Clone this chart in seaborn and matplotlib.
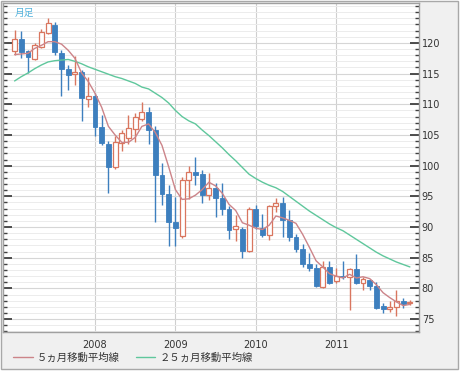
import numpy as np
import pandas as pd
import matplotlib
matplotlib.use("Agg")
import matplotlib.pyplot as plt
import seaborn as sns
from matplotlib.patches import Rectangle
from matplotlib.lines import Line2D
from matplotlib.ticker import MultipleLocator, FixedLocator

# ---- data (monthly candles, Jan 2007 - Dec 2011) ----
months = [f"{y}-{m:02d}" for y in range(2007, 2012) for m in range(1, 13)]

opens = [118.7, 120.7, 118.6, 117.4, 119.4, 121.6, 122.9, 118.4, 115.7, 114.9, 115.3, 110.8,
         111.4, 106.3, 103.5, 99.8, 103.7, 104.5, 106.0, 107.6, 108.7, 105.8, 98.5, 95.4,
         90.75, 88.5, 97.65, 98.9, 98.6, 95.2, 96.3, 94.7, 93.0, 89.7, 89.6, 86.1,
         93.0, 89.9, 88.7, 93.4, 93.9, 91.1, 88.3, 86.35, 84.05, 83.4, 80.15, 83.5,
         81.2, 82.0, 81.9, 83.1, 80.9, 81.3, 80.36, 77.1, 76.7, 76.9, 78.0, 77.6]
highs = [122.1, 122.0, 118.9, 120.0, 122.2, 124.0, 123.4, 118.8, 116.4, 117.8, 115.6, 114.5,
         111.8, 108.2, 104.0, 104.8, 105.8, 108.3, 108.6, 110.4, 109.5, 106.5, 100.4, 96.8,
         94.9, 98.2, 100.0, 101.45, 99.3, 98.85, 97.1, 97.1, 93.4, 92.0, 90.0, 93.2,
         93.6, 92.05, 93.6, 94.65, 94.9, 92.8, 88.8, 87.3, 85.8, 84.0, 84.4, 84.45,
         83.3, 84.45, 83.3, 85.6, 81.9, 81.6, 81.0, 77.6, 77.9, 79.7, 78.5, 78.1]
lows = [118.0, 117.5, 115.1, 117.2, 119.1, 121.4, 118.0, 111.4, 112.4, 113.1, 107.2, 109.6,
        104.8, 103.3, 95.6, 99.4, 102.4, 103.6, 103.8, 107.3, 103.5, 90.9, 93.6, 86.9,
        86.9, 88.2, 94.6, 96.8, 93.9, 94.4, 91.7, 92.0, 88.1, 87.75, 84.9, 86.0,
        89.7, 88.3, 87.9, 92.5, 88.3, 87.8, 85.95, 83.5, 82.85, 80.2, 80.1, 80.8,
        80.9, 81.5, 76.55, 80.8, 79.7, 79.7, 76.7, 76.0, 76.2, 75.5, 76.8, 77.3]
closes = [120.6, 118.5, 117.7, 119.6, 121.8, 123.2, 118.5, 115.8, 114.8, 115.3, 111.0, 111.4,
          106.3, 103.7, 99.8, 103.9, 105.4, 106.1, 107.9, 108.7, 105.8, 98.5, 95.4, 90.75,
          89.9, 97.7, 99.0, 98.5, 95.2, 96.3, 94.7, 92.9, 89.5, 90.15, 86.1, 93.0,
          90.15, 88.7, 93.4, 93.85, 91.2, 88.3, 86.35, 84.05, 83.4, 80.35, 83.5, 80.9,
          82.0, 81.8, 83.1, 80.9, 81.6, 80.35, 76.8, 76.6, 77.0, 78.0, 77.4, 77.8]
ma5 = [118.1, 118.2, 118.3, 119.1, 119.6, 120.2, 120.2, 119.8, 118.8, 117.5, 115.1, 113.7,
       111.8, 109.5, 106.4, 105.0, 103.8, 103.8, 104.6, 106.4, 106.8, 105.4, 103.3, 99.8,
       96.1, 94.5, 94.6, 95.2, 96.1, 97.3, 96.7, 95.5, 93.7, 92.7, 90.7, 90.3,
       89.8, 89.6, 90.3, 91.8, 91.5, 91.1, 90.6, 88.8, 86.7, 84.5, 83.5, 82.4,
       82.0, 81.7, 82.3, 81.7, 81.9, 81.6, 80.6, 79.3, 78.5, 77.8, 77.2, 77.4]
ma25 = [113.8, 114.5, 115.1, 115.8, 116.4, 116.9, 117.1, 117.2, 117.3, 117.0, 116.6, 116.1,
        115.7, 115.3, 114.9, 114.5, 114.2, 113.8, 113.4, 112.8, 112.5, 111.8, 111.1, 110.2,
        109.0, 108.0, 107.3, 106.8, 105.8, 104.9, 103.9, 102.9, 101.8, 100.8, 99.7, 98.6,
        97.9, 97.3, 96.8, 96.4, 95.8, 95.0, 94.2, 93.4, 92.6, 91.9, 91.2, 90.5,
        89.9, 89.4, 88.7, 88.0, 87.3, 86.6, 85.9, 85.3, 84.8, 84.3, 83.9, 83.5]
year_labels = ["2008", "2009", "2010", "2011"]
y_ticks = [75, 80, 85, 90, 95, 100, 105, 110, 115, 120]
legend_labels = ["５ヵ月移動平均線", "２５ヵ月移動平均線"]
title_text = "月足"

# ---- styling ----
UP = "#d9765f"
DOWN = "#3d7fbe"
MA5C = "#cc8489"
MA25C = "#5fc79c"
CJK = ["Noto Sans CJK JP", "DejaVu Sans"]

sns.set_theme(style="white")
plt.rcParams["font.family"] = ["DejaVu Sans", "Noto Sans CJK JP"]

W, H = 464, 375
fig = plt.figure(figsize=(W / 100, H / 100), dpi=100, facecolor="white")
fig.patches.append(Rectangle((0.5 / W, 1 - 369 / H), 457.5 / W, 368.5 / H,
                             transform=fig.transFigure, facecolor="#f0f0f0",
                             edgecolor="#a8a8a8", lw=1.0, zorder=-10))

ax = fig.add_axes([3 / W, 43 / H, 416 / W, 329 / H])
ax.set_zorder(1)
ax.set_facecolor("white")

df = pd.DataFrame({"month": months, "open": opens, "high": highs,
                   "low": lows, "close": closes, "ma5": ma5, "ma25": ma25})
df["pos"] = np.arange(len(df))
up = df[df["close"] >= df["open"]]
dn = df[df["close"] < df["open"]]

# wicks
ax.vlines(up["pos"], up["low"], up["high"], colors=UP, lw=1.0, zorder=3)
ax.vlines(dn["pos"], dn["low"], dn["high"], colors=DOWN, lw=1.0, zorder=3)
# bodies
ax.bar(up["pos"], (up["close"] - up["open"]).clip(lower=0.15), bottom=up["open"],
       width=0.72, facecolor="white", edgecolor=UP, lw=0.9, zorder=4)
ax.bar(dn["pos"], (dn["open"] - dn["close"]).clip(lower=0.15), bottom=dn["close"],
       width=0.72, facecolor=DOWN, edgecolor=DOWN, lw=0.6, zorder=4)

# moving averages
sns.lineplot(data=df, x="pos", y="ma25", color=MA25C, lw=1.0, ax=ax, zorder=5, legend=False)
sns.lineplot(data=df, x="pos", y="ma5", color=MA5C, lw=1.0, ax=ax, zorder=5, legend=False)

ax.set_xlim(-1.73, 60.36)
ax.set_ylim(72.9, 126.5)
ax.set_xlabel("")
ax.set_ylabel("")

year_pos = [months.index(f"{y}-01") for y in year_labels]
ax.xaxis.set_major_locator(FixedLocator(year_pos))
ax.set_xticklabels(year_labels)
ax.yaxis.set_major_locator(FixedLocator(y_ticks))
ax.yaxis.set_minor_locator(MultipleLocator(1))

ax.grid(which="minor", axis="y", color="#ececec", lw=0.7, zorder=0)
ax.grid(which="major", axis="y", color="#d6d6d6", lw=0.8, zorder=0)
ax.grid(which="major", axis="x", color="#cfcfcf", lw=0.8, zorder=0)
ax.set_axisbelow(True)

ax.tick_params(axis="x", length=0, pad=6, labelsize=7, labelcolor="#333333")
ax.tick_params(axis="y", which="both", left=True, right=True, labelleft=False,
               labelright=True, direction="in", color="#404040")
ax.tick_params(axis="y", which="major", length=6.5, width=1.3, pad=2,
               labelsize=7, labelcolor="#333333")
ax.tick_params(axis="y", which="minor", length=3, width=1.0)

for s in ax.spines.values():
    s.set_visible(True)
    s.set_color("#a0a0a0")
    s.set_linewidth(1.0)

fig.text(15 / W, 1 - 12.5 / H, title_text, ha="left", va="center",
         color="#55b3dc", fontsize=7, family=CJK, zorder=10)

handles = [Line2D([], [], color=MA5C, lw=1.0), Line2D([], [], color=MA25C, lw=1.0)]
leg = fig.legend(handles, legend_labels, loc="center left",
                 bbox_to_anchor=(13 / W, 1 - 358 / H), ncol=2, frameon=False,
                 prop={"family": CJK, "size": 7.5}, handlelength=1.9,
                 handletextpad=0.4, columnspacing=1.5, borderaxespad=0, borderpad=0)
for t in leg.get_texts():
    t.set_color("#333333")

fig.savefig("out.png", dpi=100, facecolor="white")
